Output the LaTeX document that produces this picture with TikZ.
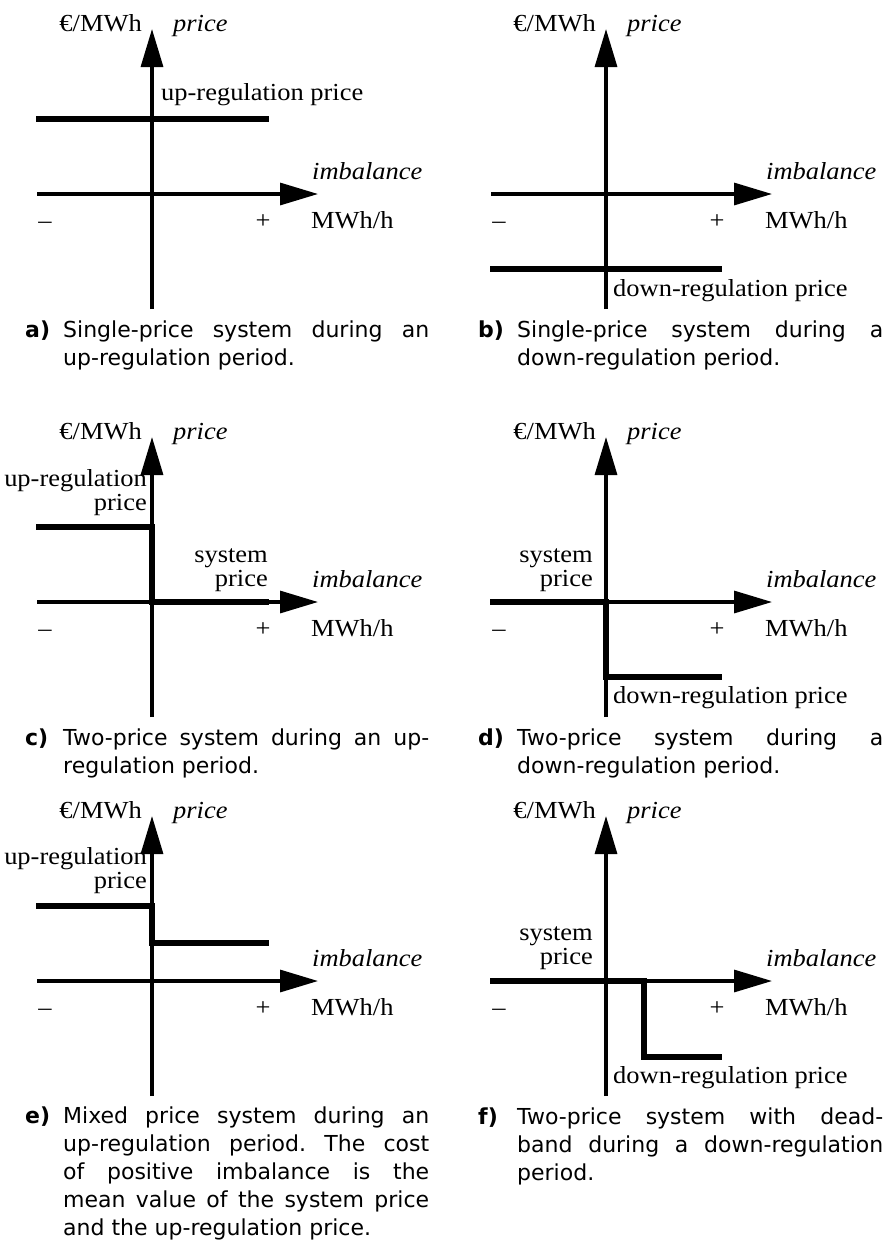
\documentclass[tikz,border=0pt]{standalone}
\usepackage{fontspec}
\setmainfont{Liberation Serif}[FakeStretch=1.08]
\newfontfamily\capfont{DejaVu Sans}
\usetikzlibrary{arrows.meta}
\frenchspacing
\tikzset{
  axisarrow/.style={line width=3.2pt, -{Triangle[length=38pt,width=22pt]}},
  priceline/.style={line width=6.5pt, line join=miter, line cap=butt},
  lab/.style={inner sep=0pt, font=\fontsize{24.5}{24}\selectfont},
  captxt/.style={inner sep=0pt, anchor=base west, font=\capfont\fontsize{22}{28}\selectfont},
  captag/.style={inner sep=0pt, anchor=base west, font=\capfont\bfseries\fontsize{22}{28}\selectfont},
}
\newcommand\panelbase[1]{%
  \coordinate (#1-l) at (-115,0);
  \coordinate (#1-r) at (166,0);
  \coordinate (#1-b) at (0,115);
  \coordinate (#1-t) at (0,-165);
  \draw[axisarrow] (#1-l) -- (#1-r);
  \draw[axisarrow] (#1-b) -- (#1-t);
  \node[lab, anchor=base east] (#1-unit) at (-10,-163) {€/MWh};
  \node[lab, anchor=base west] (#1-price) at (21,-163) {\itshape price};
  \node[lab, anchor=base west] (#1-imb) at (160,-15) {\itshape imbalance};
  \node[lab, anchor=base west] (#1-mwh) at (159,34) {MWh/h};
  \node[lab, anchor=base] (#1-minus) at (-107,34) {–};
  \node[lab, anchor=base] (#1-plus) at (111,34) {+};
}
\begin{document}
\begin{tikzpicture}[x=1pt, y=-1pt]
\useasboundingbox (0,0) rectangle (890,1243);

% ---- a ----
\begin{scope}[shift={(152,194)}]
  \panelbase{a}
  \coordinate (a-p1) at (-116,-75);
  \coordinate (a-p2) at (117,-75);
  \draw[priceline] (a-p1) -- (a-p2);
  \node[lab, anchor=base west] (a-up) at (9,-94) {up-regulation price};
  \node[captag] (a-tag) at (-127,143) {a)};
  \node[captxt] (a-cap) at (-89,143) {\parbox[t]{366pt}{\makebox[366pt][s]{Single-price system during an}\\up-regulation period.}};
\end{scope}

% ---- b ----
\begin{scope}[shift={(606,194)}]
  \panelbase{b}
  \coordinate (b-p1) at (-116,75);
  \coordinate (b-p2) at (116,75);
  \draw[priceline] (b-p1) -- (b-p2);
  \node[lab, anchor=base west] (b-down) at (7,102) {down-regulation price};
  \node[captag] (b-tag) at (-128,143) {b)};
  \node[captxt] (b-cap) at (-89,143) {\parbox[t]{366pt}{\makebox[366pt][s]{Single-price system during a}\\down-regulation period.}};
\end{scope}

% ---- c ----
\begin{scope}[shift={(152,602)}]
  \panelbase{c}
  \coordinate (c-p1) at (-116,-75);
  \coordinate (c-p2) at (0,-75);
  \coordinate (c-p3) at (0,0);
  \coordinate (c-p4) at (117,0);
  \draw[priceline] (c-p1) -- (c-p2) -- (c-p3) -- (c-p4);
  \node[lab, anchor=base east] (c-up) at (-5,-116) {\begin{tabular}[t]{@{}r@{}}up-regulation\\price\end{tabular}};
  \node[lab, anchor=base east] (c-sys) at (116,-40) {\begin{tabular}[t]{@{}r@{}}system\\price\end{tabular}};
  \node[captag] (c-tag) at (-127,143) {c)};
  \node[captxt] (c-cap) at (-89,143) {\parbox[t]{366pt}{\makebox[366pt][s]{Two-price system during an up-}\\regulation period.}};
\end{scope}

% ---- d ----
\begin{scope}[shift={(606,602)}]
  \panelbase{d}
  \coordinate (d-p1) at (-116,0);
  \coordinate (d-p2) at (0,0);
  \coordinate (d-p3) at (0,75);
  \coordinate (d-p4) at (116,75);
  \draw[priceline] (d-p1) -- (d-p2) -- (d-p3) -- (d-p4);
  \node[lab, anchor=base east] (d-sys) at (-13,-40) {\begin{tabular}[t]{@{}r@{}}system\\price\end{tabular}};
  \node[lab, anchor=base west] (d-down) at (7,101) {down-regulation price};
  \node[captag] (d-tag) at (-128,143) {d)};
  \node[captxt] (d-cap) at (-89,143) {\parbox[t]{366pt}{\makebox[366pt][s]{Two-price system during a}\\down-regulation period.}};
\end{scope}

% ---- e ----
\begin{scope}[shift={(152,981)}]
  \panelbase{e}
  \coordinate (e-p1) at (-116,-75);
  \coordinate (e-p2) at (0,-75);
  \coordinate (e-p3) at (0,-38);
  \coordinate (e-p4) at (117,-38);
  \draw[priceline] (e-p1) -- (e-p2) -- (e-p3) -- (e-p4);
  \node[lab, anchor=base east] (e-up) at (-5,-117) {\begin{tabular}[t]{@{}r@{}}up-regulation\\price\end{tabular}};
  \node[captag] (e-tag) at (-127,142) {e)};
  \node[captxt] (e-cap) at (-89,142) {\parbox[t]{366pt}{\makebox[366pt][s]{Mixed price system during an}\\\makebox[366pt][s]{up-regulation period. The cost}\\\makebox[366pt][s]{of positive imbalance is the}\\\makebox[366pt][s]{mean value of the system price}\\and the up-regulation price.}};
\end{scope}

% ---- f ----
\begin{scope}[shift={(606,981)}]
  \panelbase{f}
  \coordinate (f-p1) at (-116,0);
  \coordinate (f-p2) at (38,0);
  \coordinate (f-p3) at (38,76);
  \coordinate (f-p4) at (116,76);
  \draw[priceline] (f-p1) -- (f-p2) -- (f-p3) -- (f-p4);
  \node[lab, anchor=base east] (f-sys) at (-13,-41) {\begin{tabular}[t]{@{}r@{}}system\\price\end{tabular}};
  \node[lab, anchor=base west] (f-down) at (7,102) {down-regulation price};
  \node[captag] (f-tag) at (-128,143) {f)};
  \node[captxt] (f-cap) at (-89,143) {\parbox[t]{366pt}{\makebox[366pt][s]{Two-price system with dead-}\\\makebox[366pt][s]{band during a down-regulation}\\period.}};
\end{scope}
\end{tikzpicture}
\end{document}
